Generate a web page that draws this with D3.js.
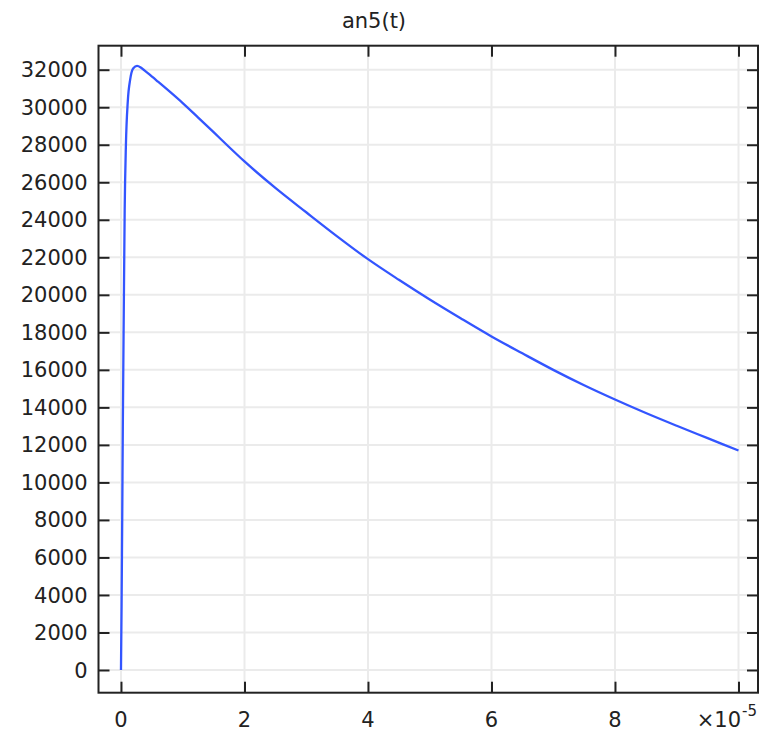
<!DOCTYPE html>
<html>
<head>
<meta charset="utf-8">
<script src="https://cdn.jsdelivr.net/npm/d3@7"></script>
<style>
  body { margin: 0; background: #fff; }
  text { font-family: "DejaVu Sans", sans-serif; fill: #222; }
</style>
</head>
<body>
<svg id="chart"></svg>
<script>
// time in units of 1e-5 s
var tValues = [0, 0.01, 0.02, 0.03, 0.045, 0.06, 0.08, 0.11, 0.15, 0.2, 0.26, 0.32, 0.38, 0.44, 0.6, 0.8, 1.0,
  1.25, 1.5, 1.75, 2.0, 2.5, 3.0, 3.5, 4.0, 4.5, 5.0, 5.5, 6.0, 6.5, 7.0, 7.5, 8.0, 8.5, 9.0, 9.5, 10.0];
var an5Values = [0, 3500, 8000, 13000, 19000, 24500, 28000, 30300, 31500, 32080, 32200, 32120, 31960, 31800, 31360, 30800, 30220,
  29450, 28670, 27880, 27110, 25700, 24400, 23120, 21900, 20800, 19750, 18750, 17780, 16880, 16000, 15180, 14420, 13700, 13020, 12360, 11700];
var xTicks = [0, 2, 4, 6, 8, 10];
var yTicks = [0, 2000, 4000, 6000, 8000, 10000, 12000, 14000, 16000, 18000, 20000,
  22000, 24000, 26000, 28000, 30000, 32000];
var title = "an5(t)";

var width = 764,
    height = 737;
// note: "top" is taken by window.top, so prefix these
var pLeft = 98.5, pRight = 758, pTop = 45.7, pBottom = 692.7;
var tickLen = 11;

var svg = d3.select("#chart")
  .attr("width", width)
  .attr("height", height);

var x = d3.scaleLinear().domain([-0.364, 10.316]).range([pLeft, pRight]);
var y = d3.scaleLinear().domain([-1210, 33280]).range([pBottom, pTop]);

// grid
svg.append("g").selectAll("line")
  .data(xTicks)
.enter().append("line")
  .attr("x1", function(d) { return x(d); })
  .attr("x2", function(d) { return x(d); })
  .attr("y1", pTop)
  .attr("y2", pBottom)
  .attr("stroke", "#ebebeb")
  .attr("stroke-width", 2);

svg.append("g").selectAll("line")
  .data(yTicks)
.enter().append("line")
  .attr("x1", pLeft)
  .attr("x2", pRight)
  .attr("y1", function(d) { return y(d); })
  .attr("y2", function(d) { return y(d); })
  .attr("stroke", "#ebebeb")
  .attr("stroke-width", 2);

// curve
var line = d3.line()
  .x(function(d, i) { return x(tValues[i]); })
  .y(function(d) { return y(d); })
  .curve(d3.curveMonotoneX);

svg.append("path")
  .datum(an5Values)
  .attr("d", line)
  .attr("fill", "none")
  .attr("stroke", "#3355ff")
  .attr("stroke-width", 2.3);

// frame
svg.append("rect")
  .attr("x", pLeft)
  .attr("y", pTop)
  .attr("width", pRight - pLeft)
  .attr("height", pBottom - pTop)
  .attr("fill", "none")
  .attr("stroke", "#222")
  .attr("stroke-width", 2);

// inward ticks on all four sides, via d3 axes with negative size
var axB = svg.append("g").attr("transform", "translate(0," + pBottom + ")")
  .call(d3.axisBottom(x).tickValues(xTicks).tickSize(-tickLen).tickFormat(""));
var axT = svg.append("g").attr("transform", "translate(0," + pTop + ")")
  .call(d3.axisTop(x).tickValues(xTicks).tickSize(-tickLen).tickFormat(""));
var axL = svg.append("g").attr("transform", "translate(" + pLeft + ",0)")
  .call(d3.axisLeft(y).tickValues(yTicks).tickSize(-tickLen).tickFormat(""));
var axR = svg.append("g").attr("transform", "translate(" + pRight + ",0)")
  .call(d3.axisRight(y).tickValues(yTicks).tickSize(-tickLen).tickFormat(""));

[axB, axT, axL, axR].forEach(function(ax) {
  ax.select(".domain").remove();
  ax.selectAll(".tick line").attr("stroke", "#222").attr("stroke-width", 2);
});

// tick labels
svg.append("g").selectAll("text")
  .data(yTicks)
.enter().append("text")
  .attr("x", pLeft - 11)
  .attr("y", function(d) { return y(d); })
  .attr("dy", "0.36em")
  .attr("text-anchor", "end")
  .attr("font-size", 21)
  .text(function(d) { return d; });

svg.append("g").selectAll("text")
  .data(xTicks.slice(0, -1))
.enter().append("text")
  .attr("x", function(d) { return x(d); })
  .attr("y", 727)
  .attr("text-anchor", "middle")
  .attr("font-size", 21)
  .text(function(d) { return d; });

svg.append("text")
  .attr("x", 741)
  .attr("y", 727)
  .attr("text-anchor", "end")
  .attr("font-size", 21)
  .text("\u00d710");
svg.append("text")
  .attr("x", 742)
  .attr("y", 716)
  .attr("font-size", 15)
  .text("-5");

svg.append("text")
  .attr("x", 374)
  .attr("y", 28)
  .attr("text-anchor", "middle")
  .attr("font-size", 21)
  .text(title);
</script>
</body>
</html>
